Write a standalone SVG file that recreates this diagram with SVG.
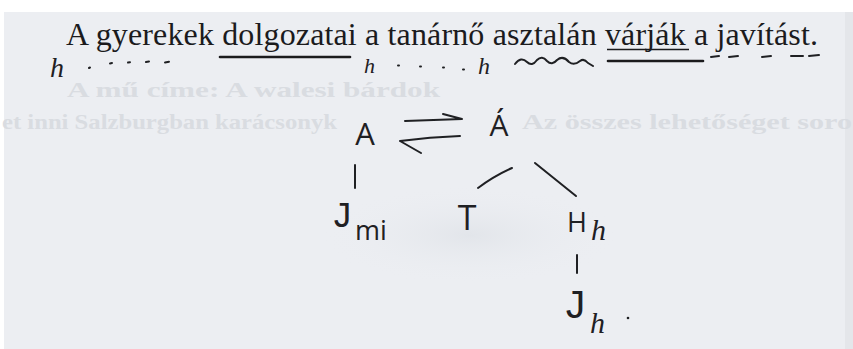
<svg xmlns="http://www.w3.org/2000/svg" width="853" height="349" viewBox="0 0 853 349">
<defs>
<style>
.print{font-family:"Liberation Serif","Times New Roman",serif;fill:#1b1b1d}
.ghost{font-family:"Liberation Serif","Times New Roman",serif;font-weight:bold;fill:#d9dce1}
.hand{font-family:"Open Sans","Liberation Sans",sans-serif;font-weight:400;fill:#1f2023}
.handj{font-family:"Liberation Mono","DejaVu Sans Mono",monospace;font-weight:400;fill:#1f2023}
.cur{font-family:"Liberation Serif","Times New Roman",serif;font-style:italic;fill:#1f2023}
.ink{fill:none;stroke:#1f2023;stroke-width:2;stroke-linecap:round;stroke-linejoin:round}
.thick{fill:none;stroke:#1b1b1d;stroke-width:2.6;stroke-linecap:round}
</style>
<radialGradient id="shade" cx="0.5" cy="0.5" r="0.5">
<stop offset="0" stop-color="#e2e5ea"/>
<stop offset="1" stop-color="#eceef2" stop-opacity="0"/>
</radialGradient>
</defs>
<rect x="0" y="0" width="853" height="349" fill="#ffffff"/>
<rect x="4" y="12" width="849" height="337" fill="#eceef2"/>
<ellipse cx="470" cy="235" rx="150" ry="50" fill="url(#shade)"/>
<rect x="845" y="12" width="8" height="337" fill="#e4e6ea"/>

<g id="ghost-text">
<text class="ghost" x="67" y="97" font-size="22" textLength="373" lengthAdjust="spacingAndGlyphs">A mű címe: A walesi bárdok</text>
<text class="ghost" x="2" y="129" font-size="22" textLength="335" lengthAdjust="spacingAndGlyphs">et inni Salzburgban karácsonyk</text>
<text class="ghost" x="522" y="129" font-size="22" textLength="330" lengthAdjust="spacingAndGlyphs">Az összes lehetőséget soro</text>
</g>

<g id="sentence">
<text class="print" x="66" y="45" font-size="32" textLength="752" lengthAdjust="spacing">A gyerekek dolgozatai a tanárnő asztalán várják a javítást.</text>
<line x1="607" y1="49.5" x2="689" y2="49.5" stroke="#1b1b1d" stroke-width="1.5"/>
</g>

<g id="annotations">
<text class="cur" x="50" y="77" font-size="28">h</text>
<path class="ink" d="M89 68l1 -0.5M110 63.5l2 -0.5M128 62.5l2 -0.3M146 62l3 -0.5M165 62.5l4 -0.8"/>
<line class="thick" x1="220" y1="57" x2="350" y2="57"/>
<text class="cur" x="364" y="73" font-size="22">h</text>
<path class="ink" d="M398 65.5l1 0M420 66.5l1 0M443 67.5l1 0M463 69.5l1 0"/>
<text class="cur" x="478" y="74" font-size="24">h</text>
<path class="ink" stroke-width="1.8" d="M515 64 Q521 56 527 62 Q532 67 537 60 Q542 55 547 61 Q552 66 557 60 Q563 55 569 62 Q574 66 580 61 Q584 58 588 63 L593 66"/>
<line class="thick" x1="608" y1="61" x2="703" y2="61"/>
<path class="ink" stroke-width="2.2" d="M711 57l8 -1M729 57l9 -1M762 57l9 -1M791 56l12 0M809 56l10 -1"/>
</g>

<g id="node-A">
<text class="hand" x="365" y="145" font-size="31" text-anchor="middle">A</text>
</g>
<g id="node-Aacc">
<text class="hand" x="499" y="136" font-size="30" text-anchor="middle">Á</text>
</g>
<g id="node-Jmi">
<text class="handj" x="342" y="227" font-size="36" text-anchor="middle">J</text>
<text class="hand" x="355" y="240" font-size="27">mi</text>
</g>
<g id="node-T">
<text class="hand" x="467" y="230" font-size="34" text-anchor="middle">T</text>
</g>
<g id="node-Hh">
<text class="hand" x="567" y="232" font-size="27">H</text>
<text class="cur" x="591" y="240" font-size="30">h</text>
</g>
<g id="node-Jh">
<text class="handj" x="575" y="318" font-size="40" text-anchor="middle">J</text>
<text class="cur" x="590" y="333" font-size="30">h</text>
<circle cx="628" cy="318" r="1.3" fill="#1f2023"/>
</g>

<g id="connectors">
<path class="ink" stroke-width="2.3" d="M405 121 L462 119 M443 114 L462 119"/>
<path class="ink" stroke-width="2.3" d="M460 136 Q430 137 400 141 L421 153"/>
<line class="ink" x1="355" y1="165" x2="355" y2="188"/>
<path class="ink" d="M478 188 Q494 176 512 168"/>
<line class="ink" x1="535" y1="163" x2="576" y2="196"/>
<line class="ink" x1="577" y1="255" x2="577" y2="273"/>
</g>
</svg>
